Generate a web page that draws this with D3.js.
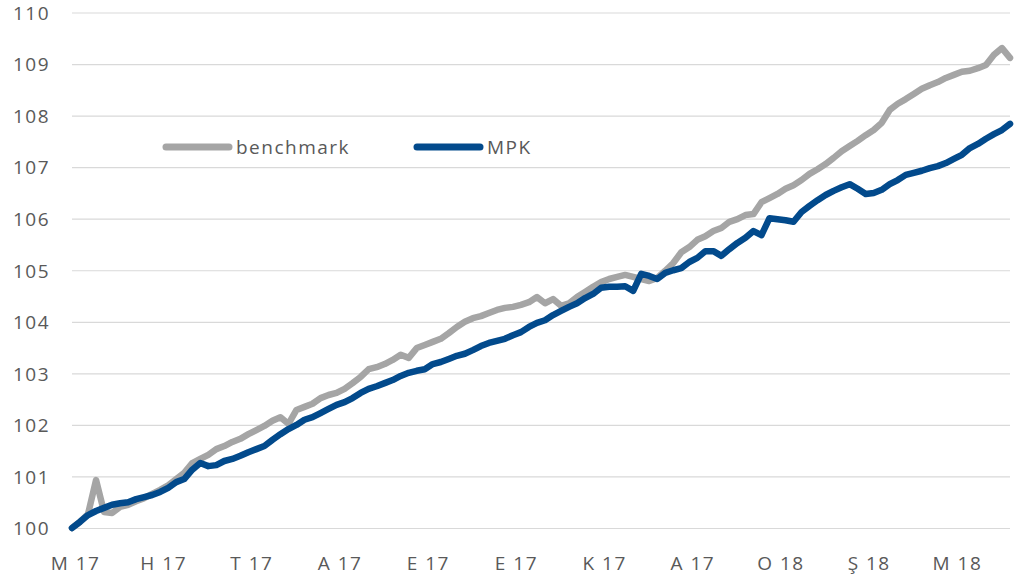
<!DOCTYPE html>
<html>
<head>
<meta charset="utf-8">
<script src="https://cdn.jsdelivr.net/npm/d3@7"></script>
<style>
  html, body { margin: 0; padding: 0; background: #fff; }
  svg { display: block; }
  text { font-family: "Open Sans", "DejaVu Sans", sans-serif; fill: #595959; }
</style>
</head>
<body>
<svg id="chart" width="1034" height="581"></svg>
<script>
// ---------------- data ----------------
const xLabels = ["M 17", "H 17", "T 17", "A 17", "E 17", "E 17", "K 17", "A 17", "O 18", "Ş 18", "M 18"];
const labelEvery = 11;
const yTicks = [100, 101, 102, 103, 104, 105, 106, 107, 108, 109, 110];
const seriesNames = ["benchmark", "MPK"];

const benchmark = [
  100.00, 100.12, 100.27, 100.93, 100.31, 100.29, 100.41, 100.45, 100.52, 100.58,
  100.66, 100.74, 100.83, 100.95, 101.07, 101.26, 101.34, 101.42, 101.53, 101.59,
  101.67, 101.73, 101.82, 101.90, 101.98, 102.08, 102.15, 102.02, 102.29, 102.35,
  102.41, 102.52, 102.58, 102.62, 102.70, 102.81, 102.93, 103.08, 103.12, 103.18,
  103.26, 103.36, 103.30, 103.49, 103.55, 103.61, 103.67, 103.78, 103.90, 104.00,
  104.07, 104.11, 104.17, 104.23, 104.27, 104.29, 104.33, 104.38, 104.48, 104.36,
  104.44, 104.31, 104.36, 104.48, 104.58, 104.68, 104.77, 104.83, 104.87, 104.91,
  104.87, 104.83, 104.79, 104.85, 104.99, 105.14, 105.35, 105.45, 105.59, 105.66,
  105.76, 105.82, 105.94, 105.99, 106.07, 106.09, 106.32, 106.40, 106.48, 106.58,
  106.65, 106.75, 106.87, 106.96, 107.06, 107.18, 107.31, 107.41, 107.51, 107.62,
  107.72, 107.86, 108.11, 108.23, 108.32, 108.42, 108.52, 108.59, 108.65, 108.73,
  108.79, 108.85, 108.87, 108.92, 108.98, 109.18, 109.31, 109.12
];

const mpk = [
  100.00, 100.12, 100.25, 100.33, 100.39, 100.45, 100.48, 100.50, 100.56, 100.60,
  100.64, 100.70, 100.78, 100.89, 100.95, 101.13, 101.26, 101.20, 101.22, 101.30,
  101.34, 101.40, 101.47, 101.53, 101.59, 101.71, 101.82, 101.92, 102.00, 102.10,
  102.15, 102.23, 102.31, 102.39, 102.44, 102.52, 102.62, 102.70, 102.75, 102.81,
  102.87, 102.95, 103.01, 103.05, 103.08, 103.18, 103.22, 103.28, 103.34, 103.38,
  103.45, 103.53, 103.59, 103.63, 103.67, 103.74, 103.80, 103.90, 103.98, 104.03,
  104.13, 104.21, 104.29, 104.36, 104.46, 104.54, 104.66, 104.68, 104.68, 104.69,
  104.60, 104.93, 104.89, 104.83, 104.95, 105.00, 105.04, 105.16, 105.24, 105.37,
  105.37, 105.28, 105.41, 105.53, 105.63, 105.76, 105.68, 106.01, 105.99, 105.97,
  105.94, 106.13, 106.25, 106.36, 106.46, 106.54, 106.61, 106.67, 106.58, 106.48,
  106.50, 106.56, 106.67, 106.75, 106.85, 106.89, 106.93, 106.98, 107.02, 107.08,
  107.16, 107.24, 107.37, 107.45, 107.55, 107.64, 107.72, 107.84
];

// ---------------- layout ----------------
const colors = { benchmark: "#A5A5A5", MPK: "#024A8C" };
const plot = { left: 72, right: 1010, top: 12.5, bottom: 528 };

const svg = d3.select("#chart");

const x = d3.scaleLinear().domain([0, mpk.length - 1]).range([plot.left, plot.right]);
const y = d3.scaleLinear().domain([100, 110]).range([plot.bottom, plot.top]);

// gridlines + y labels
const yAxis = d3.axisLeft(y).tickValues(yTicks).tickSize(-(plot.right - plot.left)).tickFormat(d3.format("d")).tickPadding(22);
const gy = svg.append("g").attr("transform", `translate(${plot.left},0)`).call(yAxis);
gy.select(".domain").remove();
gy.selectAll(".tick line").attr("stroke", "#D9D9D9").attr("stroke-width", 1.2);
gy.selectAll(".tick text")
  .attr("fill", "#595959")
  .style("font-size", "19px")
  .style("letter-spacing", "1.5px")
  .attr("dy", "0.36em");

// x axis labels
const tickIdx = xLabels.map((_, i) => i * labelEvery);
const xAxis = d3.axisBottom(x).tickValues(tickIdx).tickSize(0).tickPadding(0)
  .tickFormat((d, i) => xLabels[i]);
const gx = svg.append("g").attr("transform", `translate(3,${plot.bottom + 35})`).call(xAxis);
gx.select(".domain").remove();
gx.selectAll(".tick text")
  .attr("fill", "#595959")
  .style("font-size", "19px")
  .style("letter-spacing", "1.5px")
  .attr("dy", "0.36em");

// lines
const line = d3.line().x((d, i) => x(i)).y(d => y(d));
svg.append("path").datum(benchmark)
  .attr("fill", "none").attr("stroke", colors.benchmark).attr("stroke-width", 6.5)
  .attr("stroke-linejoin", "round").attr("stroke-linecap", "round")
  .attr("d", line);
svg.append("path").datum(mpk)
  .attr("fill", "none").attr("stroke", colors.MPK).attr("stroke-width", 6.5)
  .attr("stroke-linejoin", "round").attr("stroke-linecap", "round")
  .attr("d", line);

// legend
const legendItems = [
  { name: seriesNames[0], color: colors.benchmark, x0: 166 },
  { name: seriesNames[1], color: colors.MPK, x0: 417 }
];
const lg = svg.append("g").attr("transform", "translate(0,147)");
legendItems.forEach(it => {
  lg.append("line").attr("x1", it.x0).attr("x2", it.x0 + 63).attr("y1", 0).attr("y2", 0)
    .attr("stroke", it.color).attr("stroke-width", 7).attr("stroke-linecap", "round");
  lg.append("text").attr("x", it.x0 + 70).attr("y", 0).attr("dy", "0.36em")
    .style("font-size", "19px").style("letter-spacing", "1.5px")
    .text(it.name);
});
</script>
</body>
</html>
